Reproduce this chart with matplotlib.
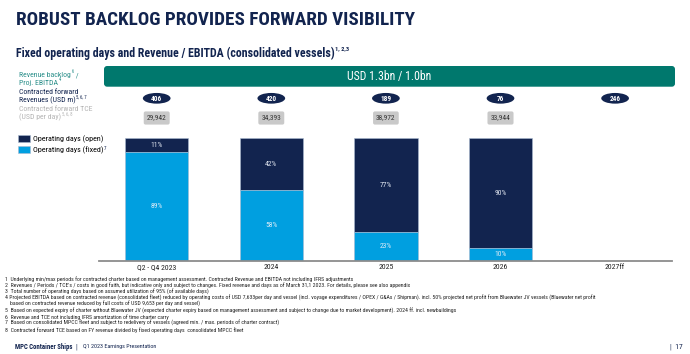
import matplotlib
matplotlib.use('Agg')
import matplotlib.pyplot as plt
import matplotlib.patches as patches
import matplotlib.transforms as mtransforms
from matplotlib import font_manager

# 数据
periods = ['Q2 - Q4 2023', '2024', '2025', '2026', '2027ff']
fixed_pct = [89, 58, 23, 10]
open_pct = [11, 42, 77, 90]
revenues = [406, 420, 189, 76, 246]
tce = [29942, 34393, 38972, 33944]
backlog_text = 'USD 1.3bn / 1.0bn'

footnotes = [
    '1  Underlying min/max periods for contracted charter based on management assessment. Contracted Revenue and EBITDA not including IFRS adjustments',
    '2  Revenues / Periods / TCE\'s / costs in good faith, but indicative only and subject to changes. Fixed revenue and days as of March 31,1 2023. For details, please see also appendix',
    '3  Total number of operating days based on assumed utilization of 95% (of available days)',
    '4 Projected EBITDA based on contracted revenue (consolidated fleet) reduced by operating costs of USD 7,633per day and vessel (incl. voyage expenditures / OPEX / G&As / Shipman). incl. 50% projected net profit from Bluewater JV vessels (Bluewater net profit',
    '   based on contracted revenue reduced by full costs of USD 9,653 per day and vessel)',
    '5  Based on expected expiry of charter without Bluewater JV (expected charter expiry based on management assessment and subject to change due to market development). 2024 ff. incl. newbuildings',
    '6  Revenue and TCE not including IFRS amortization of time charter carry',
    '7  Based on consolidated MPCC fleet and subject to redelivery of vessels (agreed min. / max. periods of charter contract)',
    '8  Contracted forward TCE based on FY revenue divided by fixed operating days  consolidated MPCC fleet',
]

# 颜色
navy = '#12244f'
light_blue = '#009fe0'
teal = '#00786d'
teal_text = '#2b8f8a'
gray_box = '#c9c9c9'

# 字体：优先窄体
available = {f.name for f in font_manager.fontManager.ttflist}
narrow = next((n for n in ['Roboto Condensed', 'Liberation Sans Narrow', 'DejaVu Sans Condensed']
               if n in available), 'DejaVu Sans')
plt.rcParams['font.family'] = [narrow, 'DejaVu Sans']

W, H = 690, 354
fig = plt.figure(figsize=(W / 100, H / 100), dpi=100)
renderer = fig.canvas.get_renderer()


def fx(px):
    return px / W


def fy(py):
    return 1 - py / H


def fit(t, width_px):
    w = t.get_window_extent(renderer).width
    t.set_fontsize(t.get_fontsize() * width_px / w)
    return t


def sup_after(t, s, size, color, weight='normal'):
    # 在文字右上角加上标
    bb = t.get_window_extent(renderer)
    return fig.text((bb.x1 + 0.6) / W, bb.y1 / H, s, fontsize=size, color=color,
                    fontweight=weight, ha='left', va='top')


def rich(x_px, y_px, pieces, size, color):
    cur = x_px
    for s, is_sup in pieces:
        if is_sup:
            t = fig.text(fx(cur + 0.5), fy(y_px - size * 0.55), s, fontsize=size * 0.6,
                         color=color, va='center', ha='left')
        else:
            t = fig.text(fx(cur), fy(y_px), s, fontsize=size, color=color, va='center', ha='left')
        cur = t.get_window_extent(renderer).x1 + (0.5 if is_sup else 0)


# 标题
t = fig.text(fx(16), fy(20), 'ROBUST BACKLOG PROVIDES FORWARD VISIBILITY', fontsize=16,
             fontweight='bold', color=navy, va='center', ha='left')
fit(t, 398)
t = fig.text(fx(16), fy(53), 'Fixed operating days and Revenue / EBITDA (consolidated vessels)',
             fontsize=9, fontweight='bold', color=navy, va='center', ha='left')
fit(t, 317)
sup_after(t, '1, 2,3', 4.6, navy, 'bold')

# 左侧说明
rich(19, 75, [('Revenue backlog', False), ('6', True), (' /', False)], 5.6, teal_text)
rich(19, 83, [('Proj. EBITDA', False), ('4', True)], 5.6, teal_text)
rich(19, 92.3, [('Contracted forward', False)], 5.6, navy)
rich(19, 100.3, [('Revenues (USD m)', False), ('5, 6, 7', True)], 5.6, navy)
rich(19, 109, [('Contracted forward TCE', False)], 5.6, '#b4b4b4')
rich(19, 117, [('(USD per day)', False), ('5, 6, 8', True)], 5.6, '#b4b4b4')

# 柱状图
ax = fig.add_axes([fx(99.4), fy(260.5), (672.4 - 99.4) / W, (260.5 - 138.3) / H])
x = list(range(len(periods)))
bw = 0.554
b_open = ax.bar(x[:4], open_pct, bottom=fixed_pct, width=bw, color=navy,
                edgecolor='#a9bad0', linewidth=0.4, label='Operating days (open)')
b_fixed = ax.bar(x[:4], fixed_pct, width=bw, color=light_blue,
                 edgecolor='#a9bad0', linewidth=0.4, label='Operating days (fixed)')
for i in range(4):
    ax.text(x[i], fixed_pct[i] / 2, f'{fixed_pct[i]}%', ha='center', va='center',
            fontsize=5.5, color='#dcebf7')
    ax.text(x[i], fixed_pct[i] + open_pct[i] / 2, f'{open_pct[i]}%', ha='center', va='center',
            fontsize=5.5, color='#dde3ee')

ax.set_xlim(-0.5, 4.5)
ax.set_ylim(0, 100)
ax.set_xticks(x)
ax.set_xticklabels(periods, fontsize=5.6, color='#222222')
ax.tick_params(axis='x', length=0, pad=2.4)
ax.set_yticks([])
for s in ['top', 'left', 'right']:
    ax.spines[s].set_visible(False)
ax.spines['bottom'].set_color('#8c8c8c')
ax.spines['bottom'].set_linewidth(1.3)
ax.patch.set_visible(False)

# 图例
leg = fig.legend(handles=[b_open, b_fixed], loc='upper left', bbox_to_anchor=(fx(18.3), fy(135)),
                 frameon=False, fontsize=5.8, handlelength=1.4, handleheight=0.97,
                 handletextpad=0.4, labelspacing=0.38, borderaxespad=0, borderpad=0)
fig.canvas.draw()
sup_after(leg.get_texts()[1], '7', 3.6, navy)

# 绿色横幅
banner = patches.FancyBboxPatch((fx(104), fy(86.7)), fx(675) - fx(104), (86.7 - 66) / H,
                                boxstyle='round,pad=0,rounding_size=0.0045',
                                mutation_aspect=W / H, transform=fig.transFigure,
                                facecolor=teal, edgecolor='none')
fig.add_artist(banner)
fig.text(fx(389.5), fy(76.5), backlog_text, color='white', fontsize=8.5,
         ha='center', va='center')

# 收入椭圆与TCE灰框
blend = mtransforms.blended_transform_factory(ax.transData, fig.transFigure)
for i, v in enumerate(revenues):
    e = patches.Ellipse((x[i], fy(98.3)), 27.7 / 114.6, 10.7 / H, transform=blend,
                        facecolor=navy, edgecolor='none', clip_on=False)
    ax.add_patch(e)
    ax.text(x[i], fy(98.5), str(v), transform=blend, ha='center', va='center',
            fontsize=5.2, color='white', fontweight='bold')
for i, v in enumerate(tce):
    ax.text(x[i], fy(118), f'{v:,}', transform=blend, ha='center', va='center',
            fontsize=5.3, color='#333333',
            bbox=dict(boxstyle='round,pad=0.42,rounding_size=0.25', fc=gray_box, ec='none'))

# 脚注：行距 6.35px，字号取不重叠的最大值
line_step = 6.35
probe = fig.text(0, 0, footnotes[3], fontsize=4)
fn_size = 4 * (line_step - 0.15) / probe.get_window_extent(renderer).height
probe.remove()
for i, line in enumerate(footnotes):
    py = 279 + i * line_step
    x0 = 10 if line.startswith('   ') else 5
    fig.text(fx(x0), fy(py), line.strip(), fontsize=fn_size,
             color='#222222', va='center', ha='left')

# 页脚
t = fig.text(fx(15), fy(346.7), 'MPC Container Ships', fontsize=5.8, fontweight='bold',
             color=navy, va='center', ha='left')
fit(t, 57)
fig.text(fx(75), fy(346.7), '|', fontsize=5.5, color=navy, va='center', ha='left')
t = fig.text(fx(83), fy(346.7), 'Q1 2023 Earnings Presentation', fontsize=5.5,
             color=navy, va='center', ha='left')
fit(t, 72)
fig.text(fx(683), fy(346.7), '|  17', fontsize=5.5, color=navy, va='center', ha='right')

fig.savefig('out.png', dpi=100)
